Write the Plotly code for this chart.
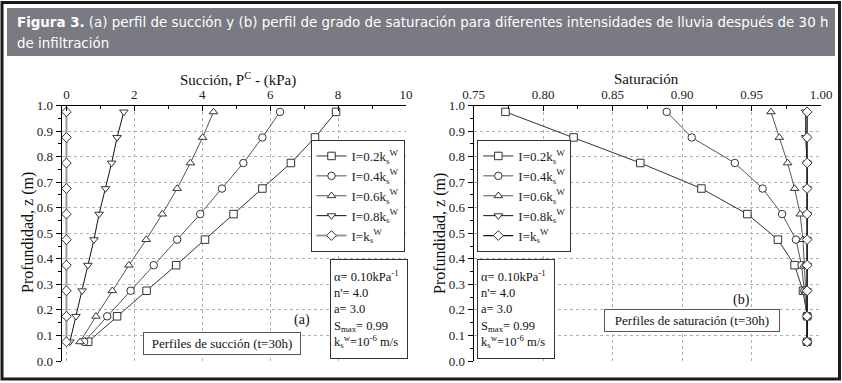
import plotly.graph_objects as go

W, H = 842, 383
def px(x): return x / W
def py(y): return 1 - y / H

# ---------------- data ----------------
depth = [0.975, 0.875, 0.775, 0.675, 0.575, 0.475, 0.375, 0.275, 0.175, 0.075]

series_names = ["I=0.2k<sub>s</sub><sup>W</sup>", "I=0.4k<sub>s</sub><sup>W</sup>",
                "I=0.6k<sub>s</sub><sup>W</sup>", "I=0.8k<sub>s</sub><sup>W</sup>",
                "I=k<sub>s</sub><sup>W</sup>"]

succ_02 = [7.94, 7.32, 6.61, 5.77, 4.92, 4.08, 3.23, 2.36, 1.49, 0.64]
succ_04 = [6.29, 5.77, 5.21, 4.58, 3.94, 3.26, 2.57, 1.89, 1.20, 0.52]
succ_06 = [4.33, 4.01, 3.65, 3.26, 2.82, 2.35, 1.84, 1.35, 0.87, 0.40]
succ_08 = [1.69, 1.49, 1.33, 1.15, 0.96, 0.81, 0.63, 0.46, 0.28, 0.10]
succ_10 = [0.0, 0.0, 0.0, 0.0, 0.0, 0.0, 0.0, 0.0, 0.0, 0.0]

sat_02 = [0.773, 0.822, 0.870, 0.914, 0.947, 0.969, 0.981, 0.987, 0.990, 0.990]
sat_04 = [0.889, 0.907, 0.938, 0.958, 0.972, 0.982, 0.986, 0.988, 0.990, 0.990]
sat_06 = [0.964, 0.970, 0.976, 0.981, 0.985, 0.987, 0.988, 0.989, 0.990, 0.990]
sat_08 = [0.989, 0.989, 0.990, 0.990, 0.990, 0.990, 0.990, 0.990, 0.990, 0.990]
sat_10 = [0.990, 0.990, 0.990, 0.990, 0.990, 0.990, 0.990, 0.990, 0.990, 0.990]

succ_ticks = [0, 2, 4, 6, 8, 10]
sat_ticks = [0.75, 0.80, 0.85, 0.90, 0.95, 1.00]

params_text = ("α= 0.10kPa<sup>-1</sup><br>n'= 4.0<br>a= 3.0<br>"
               "S<sub>max</sub>= 0.99<br>k<sub>s</sub><sup>w</sup>=10<sup>-6</sup> m/s")

symbols = ["square", "circle", "triangle-up", "triangle-down", "diamond"]
line_cols = ["#333333", "#555555", "#555555", "#111111", "#999999"]
line_cols_r = ["#333333", "#555555", "#555555", "#111111", "#111111"]
line_w = [1, 1, 1, 1, 2]

SERIF = "Liberation Serif, Times New Roman, serif"

fig = go.Figure()

succ = [succ_02, succ_04, succ_06, succ_08, succ_10]
sat = [sat_02, sat_04, sat_06, sat_08, sat_10]

for i in range(5):
    fig.add_trace(go.Scatter(
        x=succ[i], y=depth, mode="lines+markers", name=series_names[i],
        xaxis="x", yaxis="y", legend="legend", cliponaxis=False,
        line=dict(color=line_cols[i], width=line_w[i]),
        marker=dict(symbol=symbols[i], size=7.5, color="white",
                    line=dict(color="#333333", width=1))))
for i in range(5):
    fig.add_trace(go.Scatter(
        x=sat[i], y=depth, mode="lines+markers", name=series_names[i],
        xaxis="x2", yaxis="y2", legend="legend2", cliponaxis=False,
        line=dict(color=line_cols_r[i], width=1.3 if i == 4 else 1),
        marker=dict(symbol=symbols[i], size=7.5, color="white",
                    line=dict(color="#333333", width=1))))

ydom = [py(361), py(105.5)]
tickfont = dict(family=SERIF, size=13, color="#222")
grid = dict(showgrid=True, griddash="dot", gridcolor="#b0b0b0", gridwidth=1)
axline = dict(showline=True, linecolor="black", linewidth=1, zeroline=False, automargin=False)

xl_dom = [px(61.7), px(406)]
xr_dom = [px(473.5), px(821)]

fig.update_layout(
    width=W, height=H, margin=dict(l=0, r=0, t=0, b=0, autoexpand=False),
    paper_bgcolor="white", plot_bgcolor="white",
    showlegend=True,
    xaxis=dict(domain=xl_dom, range=[-0.14, 10], side="top", anchor="y",
               tickvals=succ_ticks, ticks="inside", ticklen=5, tickcolor="black",
               minor=dict(dtick=1, tick0=0, ticks="inside", ticklen=3, tickcolor="black", showgrid=False),
               tickfont=tickfont, **grid, **axline),
    xaxis3=dict(overlaying="x", side="bottom", anchor="y", range=[-0.14, 10],
                tickvals=succ_ticks, ticks="inside", ticklen=5, tickcolor="black",
                minor=dict(dtick=1, tick0=0, ticks="inside", ticklen=3, tickcolor="black"),
                showticklabels=False, showgrid=False, **axline),
    yaxis=dict(domain=ydom, range=[0, 1], anchor="x", side="left",
               dtick=0.1, tick0=0, tickformat=".1f", ticks="outside", ticklen=5, tickcolor="black",
               minor=dict(dtick=0.05, ticks="outside", ticklen=3, tickcolor="black", showgrid=False),
               tickfont=tickfont, **grid, **axline),
    yaxis3=dict(overlaying="y", side="right", anchor="x", range=[0, 1],
                dtick=0.1, ticks="inside", ticklen=5, tickcolor="black",
                minor=dict(dtick=0.05, ticks="inside", ticklen=3, tickcolor="black"),
                showticklabels=False, showgrid=False, **axline),
    xaxis2=dict(domain=xr_dom, range=[0.75, 1.0], side="top", anchor="y2",
                tickvals=sat_ticks, tickformat=".2f", ticks="inside", ticklen=5, tickcolor="black",
                minor=dict(dtick=0.025, tick0=0.75, ticks="inside", ticklen=3, tickcolor="black", showgrid=False),
                tickfont=tickfont, **grid, **axline),
    xaxis4=dict(overlaying="x2", side="bottom", anchor="y2", range=[0.75, 1.0],
                tickvals=sat_ticks, ticks="inside", ticklen=5, tickcolor="black",
                minor=dict(dtick=0.025, tick0=0.75, ticks="inside", ticklen=3, tickcolor="black"),
                showticklabels=False, showgrid=False, **axline),
    yaxis2=dict(domain=ydom, range=[0, 1], anchor="x2", side="left",
                dtick=0.1, tick0=0, tickformat=".1f", ticks="outside", ticklen=5, tickcolor="black",
                minor=dict(dtick=0.05, ticks="outside", ticklen=3, tickcolor="black", showgrid=False),
                tickfont=tickfont, **grid, **axline),
    yaxis4=dict(overlaying="y2", side="right", anchor="x2", range=[0, 1],
                dtick=0.1, ticks="inside", ticklen=5, tickcolor="black",
                minor=dict(dtick=0.05, ticks="inside", ticklen=3, tickcolor="black"),
                showticklabels=False, showgrid=False, **axline),
    legend=dict(x=px(404.5), xanchor="right", y=py(140), yanchor="top",
                bordercolor="#333", borderwidth=1, bgcolor="white", itemwidth=30,
                font=dict(family=SERIF, size=13, color="#222"), tracegroupgap=0),
    legend2=dict(x=px(477.3), xanchor="left", y=py(140), yanchor="top",
                 bordercolor="#333", borderwidth=1, bgcolor="white", itemwidth=30,
                 font=dict(family=SERIF, size=13, color="#222"), tracegroupgap=0),
)

shapes = [
    dict(type="rect", xref="paper", yref="paper", x0=px(2), x1=px(839.5), y0=py(379), y1=py(2.5),
         line=dict(color="#1a1a1a", width=3), fillcolor="rgba(0,0,0,0)", layer="above"),
    dict(type="rect", xref="paper", yref="paper", x0=px(7), x1=px(835), y0=py(56), y1=py(8),
         line=dict(width=0), fillcolor="#7a7a82", layer="below"),
]
fig.update_layout(shapes=shapes)

def A(x, y, text, size, xanchor="center", yanchor="middle", **kw):
    d = dict(xref="paper", yref="paper", x=px(x), y=py(y), xanchor=xanchor, yanchor=yanchor,
             showarrow=False, text=text, font=dict(family=kw.pop("family", SERIF), size=size,
                                                    color=kw.pop("color", "#111")))
    d.update(kw)
    return d

ann = []
TITLE_FONT = "DejaVu Sans Condensed, Liberation Sans Narrow, Liberation Sans, sans-serif"
ann.append(A(15, 22, "<b>Figura 3.</b> (a) perfil de succión y (b) perfil de grado de saturación para diferentes intensidades de lluvia después de 30 h",
             14.9, xanchor="left", align="left", family=TITLE_FONT, color="white"))
ann.append(A(15, 43, "de infiltración", 14.9, xanchor="left", align="left", family=TITLE_FONT, color="white"))
# axis titles
ann.append(A(238, 79, "Succión, P<sup>C</sup> - (kPa)", 15))
ann.append(A(646, 79, "Saturación", 15))
for xc in (28, 440):
    ann.append(A(xc, 233, "Profundidad, z (m)", 16, textangle=-90))
# parameter boxes
for xl in (330, 477):
    ann.append(A(xl, 259, params_text, 12.5, xanchor="left", yanchor="top", align="left",
                 width=70, height=92, valign="middle", borderpad=3, bordercolor="#333",
                 borderwidth=1, bgcolor="white"))
ann.append(A(301.7, 320, "(a)", 14))
ann.append(A(741.7, 300, "(b)", 14))
ann.append(A(222, 343, "Perfiles de succión (t=30h)", 13, bordercolor="#555", borderwidth=1,
             borderpad=3, bgcolor="white", width=150))
ann.append(A(692, 320, "Perfiles de saturación (t=30h)", 13, bordercolor="#555", borderwidth=1,
             borderpad=3, bgcolor="white", width=168))
fig.update_layout(annotations=ann)

fig.write_html("out.html", config={"displayModeBar": False},
               post_script="document.body.style.margin='0';document.body.style.overflow='hidden';")
